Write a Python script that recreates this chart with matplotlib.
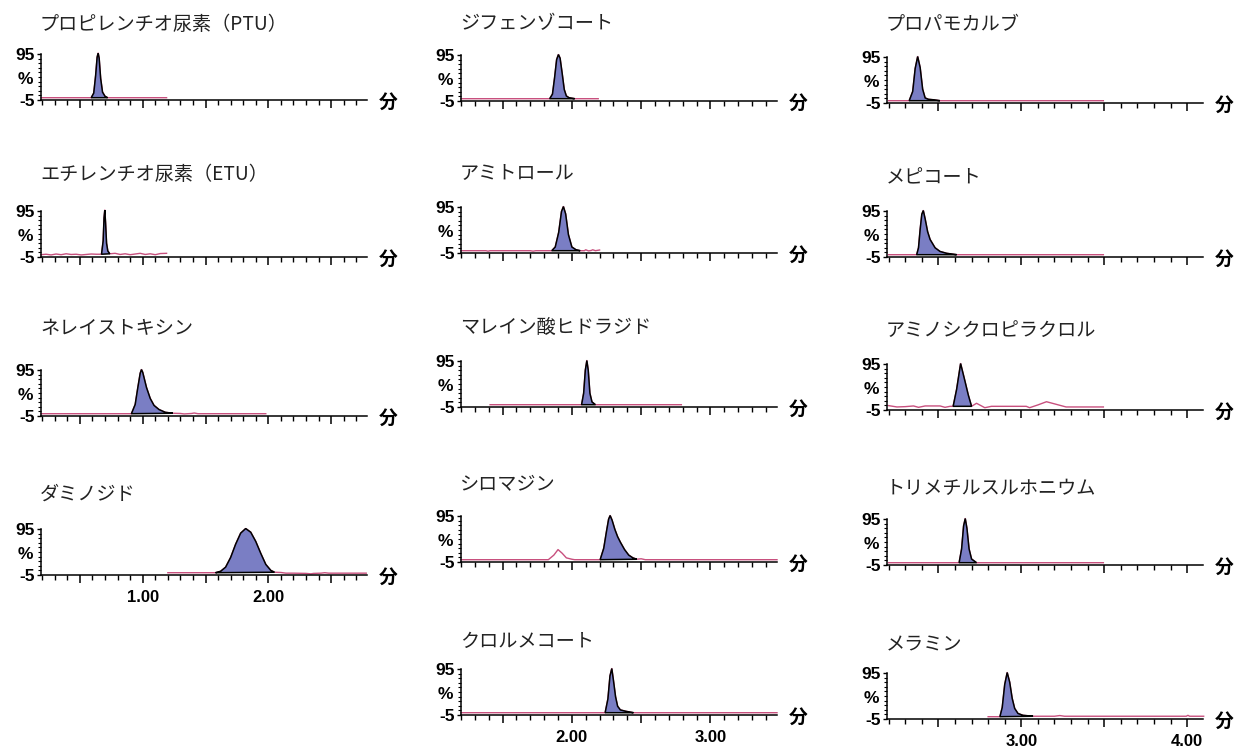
"""
plot.py
-------
Extracted-ion chromatograms for 14 polar pesticides, laid out in three
columns (one shared time axis per column). Values were read off the
reference picture: each trace is a list of (time, %) points.

Run:
    python plot.py
Outputs:
    out.png
"""

import numpy as np
import matplotlib.pyplot as plt
from matplotlib.ticker import MultipleLocator, FixedLocator, FuncFormatter

W, H = 1234, 748
PINK = "#c8507e"
FILL = "#7a7ec4"
TITLE_FONT = ["Noto Sans CJK JP", "DejaVu Sans"]
TICK_FONT = ["Liberation Sans", "DejaVu Sans"]

# time range (min) of each column's axis
COL_XLIM = [(0.19, 2.786), (1.20, 3.48), (2.19, 4.096)]

# ---- column 1 ----
PTU_T = [0.19, 0.59, 0.61, 0.625, 0.637, 0.645, 0.653, 0.665, 0.68, 0.70, 0.72, 1.19]
PTU_Y = [0, 0, 10, 48, 88, 97, 86, 42, 12, 3, 0, 0]
PTU_PEAK = (0.59, 0.72)

ETU_T = [0.19, 0.23, 0.27, 0.31, 0.35, 0.39, 0.43, 0.47, 0.51, 0.55, 0.59, 0.63,
         0.672, 0.685, 0.692, 0.698, 0.704, 0.712, 0.722, 0.738,
         0.78, 0.82, 0.86, 0.90, 0.94, 0.98, 1.02, 1.06, 1.10, 1.14, 1.19]
ETU_Y = [0, 1, -0.5, 1.5, 0, 2, 0.5, 1, -0.5, 0.5, 1.5, 1,
         1, 30, 80, 97, 70, 25, 8, 2,
         3, 0.5, 2, 0, 1.5, 3, 0.5, 2, 0, 2.5, 3]
ETU_PEAK = (0.672, 0.738)

NEREIS_T = [0.19, 0.91, 0.94, 0.96, 0.98, 0.99, 1.00, 1.03, 1.06, 1.09, 1.13, 1.18,
            1.24, 1.30, 1.33, 1.36, 1.39, 1.41, 1.44, 1.98]
NEREIS_Y = [0, 0, 20, 55, 88, 96, 90, 57, 33, 18, 9, 3,
            1, 0.5, -0.5, 0, 0.5, 1.5, 0, 0]
NEREIS_PEAK = (0.91, 1.24)

DAMINO_T = [1.20, 1.58, 1.62, 1.66, 1.70, 1.74, 1.78, 1.82, 1.86, 1.90, 1.94, 1.98,
            2.02, 2.05, 2.10, 2.14, 2.20, 2.30, 2.34, 2.36, 2.42, 2.45, 2.48, 2.78]
DAMINO_Y = [0, 0, 3, 12, 33, 62, 86, 96, 88, 68, 42, 18,
            5, 1, 0.5, -1, -1, -1.5, -2.5, -1.5, -1, 0, -1, -1]
DAMINO_PEAK = (1.58, 2.05)

# ---- column 2 ----
DIFENZO_T = [1.20, 1.84, 1.86, 1.875, 1.89, 1.903, 1.915, 1.93, 1.945, 1.96, 1.98, 2.02, 2.19]
DIFENZO_Y = [0, 0, 10, 45, 85, 96, 88, 55, 20, 6, 2, 0, 0]
DIFENZO_PEAK = (1.84, 2.02)

AMITROLE_T = [1.20, 1.38, 1.395, 1.41, 1.70, 1.72, 1.74, 1.855, 1.88, 1.905, 1.925,
              1.939, 1.955, 1.975, 2.0, 2.03, 2.06, 2.09, 2.10, 2.12, 2.14, 2.15, 2.17, 2.20]
AMITROLE_Y = [0, 0, -1, 0, 0, -1, 0, 0, 8, 40, 85,
              96, 80, 35, 8, 2, 0, 0, 2, -0.5, 0.5, 2, 0, 1.5]
AMITROLE_PEAK = (1.855, 2.06)

MALEIC_T = [1.41, 2.07, 2.085, 2.097, 2.108, 2.118, 2.13, 2.145, 2.17, 2.79]
MALEIC_Y = [0, 0, 25, 75, 96, 75, 25, 6, 0, 0]
MALEIC_PEAK = (2.07, 2.17)

CYRO_T = [1.20, 1.83, 1.87, 1.90, 1.93, 1.96, 2.00, 2.02, 2.204, 2.23, 2.25, 2.265,
          2.276, 2.29, 2.31, 2.33, 2.35, 2.38, 2.41, 2.44, 2.468, 2.50, 2.53, 3.48]
CYRO_Y = [0, 0, 10, 22, 14, 4, 1, 0, 0, 25, 62, 88,
          96, 86, 66, 50, 38, 22, 10, 4, 1, 2, 0, 0]
CYRO_PEAK = (2.204, 2.468)

CHLORM_T = [1.20, 2.24, 2.26, 2.275, 2.288, 2.30, 2.315, 2.33, 2.35, 2.39, 2.444, 3.48]
CHLORM_Y = [0, 0, 30, 80, 96, 70, 35, 14, 6, 3, 0, 0]
CHLORM_PEAK = (2.24, 2.444)

# ---- column 3 ----
PROPAMO_T = [2.20, 2.324, 2.345, 2.36, 2.375, 2.39, 2.405, 2.42, 2.44, 2.47, 2.509, 3.495]
PROPAMO_Y = [0, 0, 20, 70, 96, 72, 25, 6, 3, 2, 0, 0]
PROPAMO_PEAK = (2.324, 2.509)

MEPI_T = [2.20, 2.369, 2.38, 2.39, 2.40, 2.409, 2.42, 2.435, 2.45, 2.48, 2.51, 2.55, 2.61, 3.495]
MEPI_Y = [0, 0, 15, 55, 88, 96, 78, 50, 33, 15, 7, 3, 0, 0]
MEPI_PEAK = (2.369, 2.61)

AMINOCY_T = [2.20, 2.25, 2.30, 2.35, 2.38, 2.42, 2.51, 2.54, 2.57, 2.589, 2.61, 2.634,
             2.66, 2.68, 2.70, 2.73, 2.78, 2.82, 3.03, 3.05, 3.10, 3.152, 3.21, 3.27, 3.495]
AMINOCY_Y = [4.5, 1.6, 2.3, 3.8, 0.8, 3.8, 3.8, 0.8, 3, 3, 40, 96,
             58, 28, 3, 9.6, 0, 3, 3, 0, 6, 13, 7.4, 1.6, 1.6]
AMINOCY_PEAK = (2.589, 2.70)

TMS_T = [2.20, 2.625, 2.64, 2.652, 2.662, 2.672, 2.685, 2.70, 2.73, 3.495]
TMS_Y = [0, 0, 30, 80, 96, 75, 30, 8, 0, 0]
TMS_PEAK = (2.625, 2.73)

MELAMINE_T = [2.80, 2.871, 2.885, 2.90, 2.915, 2.93, 2.945, 2.96, 2.98, 3.01, 3.071,
              3.20, 3.232, 3.26, 3.995, 4.005, 4.015, 4.10]
MELAMINE_Y = [0, 0, 20, 70, 96, 75, 40, 18, 7, 3, 1,
              1, 2.5, 1, 1, 3, 1, 1]
MELAMINE_PEAK = (2.871, 3.071)

# (title, t, y, peak, column, axis line y px, title y px, show time labels)
PANELS = [
    ("プロピレンチオ尿素（PTU）", PTU_T, PTU_Y, PTU_PEAK, 0, 100, 24, False),
    ("エチレンチオ尿素（ETU）", ETU_T, ETU_Y, ETU_PEAK, 0, 257, 174, False),
    ("ネレイストキシン", NEREIS_T, NEREIS_Y, NEREIS_PEAK, 0, 416, 329, False),
    ("ダミノジド", DAMINO_T, DAMINO_Y, DAMINO_PEAK, 0, 575, 494, True),
    ("ジフェンゾコート", DIFENZO_T, DIFENZO_Y, DIFENZO_PEAK, 1, 101, 24, False),
    ("アミトロール", AMITROLE_T, AMITROLE_Y, AMITROLE_PEAK, 1, 253, 173, False),
    ("マレイン酸ヒドラジド", MALEIC_T, MALEIC_Y, MALEIC_PEAK, 1, 407, 327, False),
    ("シロマジン", CYRO_T, CYRO_Y, CYRO_PEAK, 1, 562, 485, False),
    ("クロルメコート", CHLORM_T, CHLORM_Y, CHLORM_PEAK, 1, 715, 641, True),
    ("プロパモカルブ", PROPAMO_T, PROPAMO_Y, PROPAMO_PEAK, 2, 103, 25, False),
    ("メピコート", MEPI_T, MEPI_Y, MEPI_PEAK, 2, 257, 178, False),
    ("アミノシクロピラクロル", AMINOCY_T, AMINOCY_Y, AMINOCY_PEAK, 2, 410, 330, False),
    ("トリメチルスルホニウム", TMS_T, TMS_Y, TMS_PEAK, 2, 565, 488, False),
    ("メラミン", MELAMINE_T, MELAMINE_Y, MELAMINE_PEAK, 2, 719, 645, True),
]

COL_LEFT_PX = [41, 461, 887]
COL_RIGHT_PX = [367, 777, 1203]
PANEL_H_PX = 46  # pixels from -5 to 95


def time_label(v, pos):
    if abs(v - round(v)) < 1e-6:
        return f"{v:.2f}"
    return ""


def draw_panel(fig, title, t, y, peak, col, axis_px, title_px, show_labels):
    left, right = COL_LEFT_PX[col], COL_RIGHT_PX[col]
    h = PANEL_H_PX * 103 / 100
    ax = fig.add_axes([left / W, 1 - axis_px / H, (right - left) / W, h / H])
    ax.set_xlim(*COL_XLIM[col])
    ax.set_ylim(-5, 98)

    t = np.asarray(t, dtype=float)
    y = np.asarray(y, dtype=float)
    ax.plot(t, y, color=PINK, lw=1.0, clip_on=False)
    m = (t >= peak[0]) & (t <= peak[1])
    ax.fill(t[m], y[m], facecolor=FILL, edgecolor="black", lw=1.1, zorder=3)

    for s in ("top", "right"):
        ax.spines[s].set_visible(False)
    ax.spines["left"].set_bounds(-5, 95)
    ax.spines["left"].set_linewidth(1.1)
    ax.spines["bottom"].set_linewidth(1.1)

    ax.xaxis.set_major_locator(MultipleLocator(0.5))
    ax.xaxis.set_minor_locator(MultipleLocator(0.1))
    ax.xaxis.set_major_formatter(FuncFormatter(time_label))
    ax.tick_params(axis="x", which="major", length=6, width=1.1, pad=5,
                   labelbottom=show_labels)
    ax.tick_params(axis="x", which="minor", length=3.5, width=1.0)

    ax.set_yticks([-5, 95])
    ax.set_yticklabels(["-5", "95"])
    ax.yaxis.set_minor_locator(FixedLocator(np.arange(-5, 96, 10)))
    ax.tick_params(axis="y", which="major", length=3, width=1.0, pad=1.5)
    ax.tick_params(axis="y", which="minor", length=2, width=0.8)

    for lab in ax.get_xticklabels():
        lab.set_fontfamily(TICK_FONT)
        lab.set_fontweight("bold")
        lab.set_fontsize(12)
    for lab in ax.get_yticklabels():
        lab.set_fontfamily(TICK_FONT)
        lab.set_fontweight("bold")
        lab.set_fontsize(12.5)

    ax.annotate("%", xy=(0, 40), xycoords=("axes fraction", "data"),
                xytext=(-6, 0), textcoords="offset points", ha="right", va="center",
                fontsize=12.5, fontweight="bold", family=TICK_FONT)
    ax.annotate("分", xy=(1, 0), xycoords="axes fraction",
                xytext=(15, -1.5), textcoords="offset points", ha="center", va="center",
                fontsize=13.5, fontweight="bold", family=TITLE_FONT)

    fig.text((left - 1) / W, 1 - title_px / H, title, ha="left", va="center",
             fontsize=13.8, family=TITLE_FONT, color="#222222")
    return ax


def run():
    fig = plt.figure(figsize=(W / 100, H / 100), dpi=100)
    for title, t, y, peak, col, axis_px, title_px, show in PANELS:
        draw_panel(fig, title, t, y, peak, col, axis_px, title_px, show)
    fig.savefig("out.png", dpi=100)
    plt.close(fig)


if __name__ == "__main__":
    run()
